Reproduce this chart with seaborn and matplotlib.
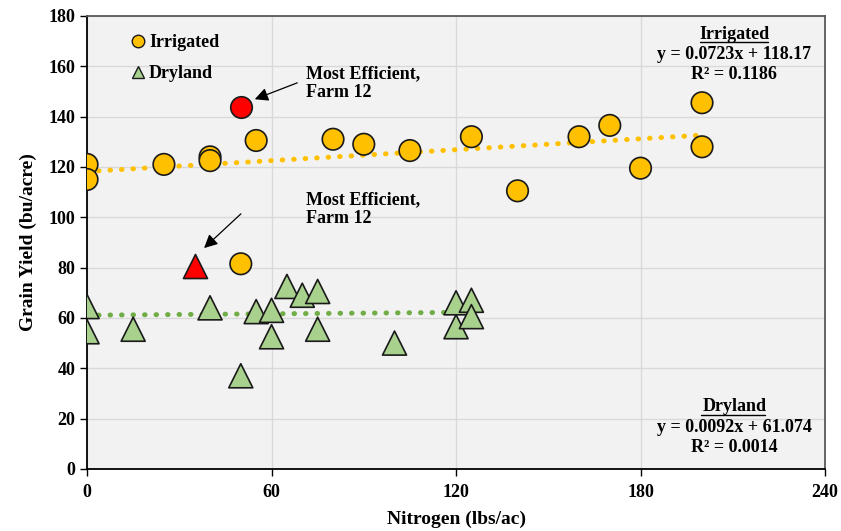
import numpy as np
import pandas as pd
import matplotlib
matplotlib.use("Agg")
import matplotlib.pyplot as plt
import seaborn as sns
from matplotlib.lines import Line2D

# datos
irr_n = [0, 0, 25, 40, 40, 55, 80, 90, 105, 125, 140, 160, 170, 180, 200, 200, 50]
irr_y = [121, 115, 121, 124, 122.5, 130.5, 131, 129, 126.5, 132, 110.5, 132, 136.5, 119.5, 145.5, 128, 81.5]
dry_n = [0, 0, 15, 40, 50, 55, 60, 60, 65, 70, 75, 75, 100, 120, 120, 125, 125]
dry_y = [64.5, 54.5, 55.5, 64, 37, 62.5, 63, 52.5, 72.5, 69, 70.5, 55.5, 50, 66, 56.5, 67, 60.5]

# granja 12 (mas eficiente)
best_irr = (50, 144)
best_dry = (35, 80.5)

# ecuaciones de tendencia mostradas
irr_fit = (0.0723, 118.17, 0.1186)
dry_fit = (0.0092, 61.074, 0.0014)

x_ticks = [0, 60, 120, 180, 240]
y_ticks = list(range(0, 181, 20))

df = pd.DataFrame({
    'Nitrogen': irr_n + dry_n,
    'Yield': irr_y + dry_y,
    'System': ['Irrigated'] * len(irr_n) + ['Dryland'] * len(dry_n),
})

sns.set_style('white')
plt.rcParams['font.family'] = ['Liberation Serif', 'DejaVu Serif']
plt.rcParams['font.weight'] = 'bold'
for k in ['text.color', 'axes.labelcolor', 'xtick.color', 'ytick.color']:
    plt.rcParams[k] = 'black'

fig = plt.figure(figsize=(8.41, 5.31), dpi=100)
ax = fig.add_axes([0.1035, 0.117, 0.8775, 0.853])
ax.set_facecolor('#f2f2f2')

# lineas de tendencia
for fit, xs, col in [(irr_fit, irr_n, '#ffc000'), (dry_fit, dry_n, '#70ad47')]:
    xl = np.array([min(xs), max(xs)])
    ax.plot(xl, fit[0] * xl + fit[1], linestyle=(0, (0.1, 2.2)), lw=3.6,
            color=col, dash_capstyle='round', zorder=2)

sns.scatterplot(data=df, x='Nitrogen', y='Yield', hue='System', style='System',
                palette={'Irrigated': '#ffc000', 'Dryland': '#a9d18e'},
                markers={'Irrigated': 'o', 'Dryland': '^'},
                size='System', sizes={'Irrigated': 240, 'Dryland': 300},
                edgecolor='#1a1a1a', linewidth=1.2, ax=ax, zorder=3,
                legend=False)

ax.scatter([best_irr[0]], [best_irr[1]], marker='o', s=240, color='#ff0000',
           edgecolor='#1a1a1a', linewidth=1.2, zorder=4)
ax.scatter([best_dry[0]], [best_dry[1]], marker='^', s=300, color='#ff0000',
           edgecolor='#1a1a1a', linewidth=1.2, zorder=4)

# leyenda manual
handles = [Line2D([], [], marker='o', ls='', markersize=9, markerfacecolor='#ffc000',
                  markeredgecolor='#1a1a1a', markeredgewidth=1),
           Line2D([], [], marker='^', ls='', markersize=9, markerfacecolor='#a9d18e',
                  markeredgecolor='#1a1a1a', markeredgewidth=1)]
ax.legend(handles, ['Irrigated', 'Dryland'], loc='upper left', frameon=False,
          bbox_to_anchor=(0.035, 0.995), handletextpad=0.1, labelspacing=0.75,
          prop={'weight': 'bold', 'size': 13}, handlelength=1.0)

# anotaciones
arrow = dict(arrowstyle='-|>', color='black', lw=0.9, mutation_scale=20)
ax.annotate('', xy=(53.7, 146.5), xytext=(69.2, 153.8), arrowprops=arrow)
ax.annotate('', xy=(37.4, 87), xytext=(50.7, 102.1), arrowprops=arrow)
for ytop in (160.5, 110.5):
    ax.text(71.2, ytop, 'Most Efficient,\nFarm 12', fontsize=13, fontweight='bold',
            ha='left', va='top', linespacing=1.15)

# ecuaciones
for yh, name, fit, ux in [(172.8, 'Irrigated', irr_fit, (199.3, 221.5)),
                          (24.6, 'Dryland', dry_fit, (199.8, 220.5))]:
    ax.text(210.5, yh, name, ha='center', va='center', fontsize=13, fontweight='bold')
    ax.plot(ux, [yh - 3.3, yh - 3.3], color='black', lw=1.0, zorder=5)
    ax.text(210.5, yh - 8.1, 'y = %sx + %s' % (fit[0], fit[1]), ha='center',
            va='center', fontsize=13, fontweight='bold')
    ax.text(210.5, yh - 16.1, 'R² = %s' % fit[2], ha='center', va='center',
            fontsize=13, fontweight='bold')

ax.set_xlim(0, 240)
ax.set_ylim(0, 180)
ax.set_xticks(x_ticks)
ax.set_yticks(y_ticks)
ax.grid(True, color='#d9d9d9', lw=1.0, zorder=0)
ax.set_axisbelow(True)
ax.tick_params(axis='both', direction='out', length=5, width=1, labelsize=13,
               color='black', bottom=True, left=True)
for lbl in ax.get_xticklabels() + ax.get_yticklabels():
    lbl.set_fontweight('bold')
ax.tick_params(axis='x', pad=6)

for side in ['left', 'bottom']:
    ax.spines[side].set_color('black')
    ax.spines[side].set_linewidth(1.3)
for side in ['top', 'right']:
    ax.spines[side].set_visible(True)
    ax.spines[side].set_color('#595959')
    ax.spines[side].set_linewidth(1.3)

ax.set_xlabel('Nitrogen (lbs/ac)', fontsize=14, fontweight='bold', labelpad=7)
ax.set_ylabel('Grain Yield (bu/acre)', fontsize=14, fontweight='bold', labelpad=8)

fig.savefig('out.png', dpi=100)
